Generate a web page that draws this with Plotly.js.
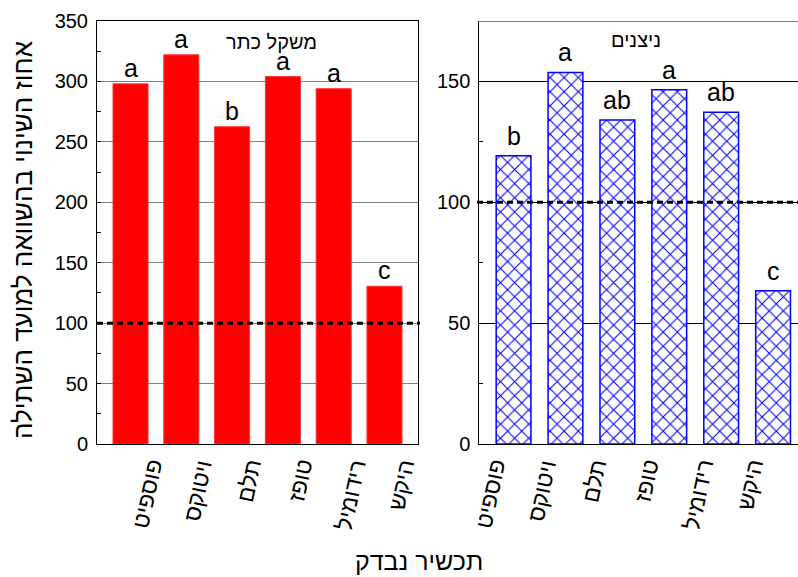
<!DOCTYPE html>
<html><head><meta charset="utf-8">
<script src="https://cdn.plot.ly/plotly-3.0.1.min.js"></script>
<style>body{margin:0;background:#fff}#chart{width:798px;height:577px}</style>
</head><body><div id="chart"></div>
<script>
const cultivars = ['פוספיט','ויטוקס','תלם','טופז','רידומיל','היקש'];
const crownWeight = [298, 322, 262.5, 304, 294, 130.5];
const crownLetters = ['a','a','b','a','a','c'];
const shoots = [119.3, 153.7, 134, 146.6, 137.2, 63.4];
const shootLetters = ['b','a','ab','a','ab','c'];
const leftYTicks = [0,50,100,150,200,250,300,350];
const leftMinor = [25,75,125,175,225,275,325];
const rightYTicks = [0,50,100,150];
const rightMinor = [25,75,125];
const panelTitles = ['משקל כתר','ניצנים'];
const yTitle = 'אחוז השינוי בהשוואה למועד השתילה';
const xTitle = 'תכשיר נבדק';
const reference = 100;

const FONT = 'Liberation Sans, Arial, sans-serif';
const idx = cultivars.map((_, i) => i);

const traces = [
  {type:'bar', x: idx, y: crownWeight, width: 0.69, xaxis:'x', yaxis:'y',
   marker:{color:'#ff0000', line:{color:'#ff3333', width:1}}, hoverinfo:'none'},
  {type:'bar', x: idx, y: shoots, width: 0.67, xaxis:'x2', yaxis:'y2',
   marker:{color:'#ffffff', line:{color:'#0000ff', width:1.5},
           pattern:{shape:'x', fgcolor:'#0000ff', bgcolor:'#ffffff', size:10, solidity:0.2, fillmode:'replace'}},
   hoverinfo:'none'}
];

const annotations = [];
idx.forEach(i => {
  annotations.push({xref:'x', yref:'y', x:i, y:crownWeight[i], text:crownLetters[i], showarrow:false,
    yanchor:'bottom', xanchor:'center', yshift:0, font:{family:FONT, size:25, color:'#000'}});
  annotations.push({xref:'x2', yref:'y2', x:i, y:shoots[i], text:shootLetters[i], showarrow:false,
    yanchor:'bottom', xanchor:'center', yshift:4, font:{family:FONT, size:25, color:'#000'}});
  annotations.push({xref:'x', yref:'y domain', x:i, y:0, text:cultivars[i], showarrow:false,
    textangle:-78, xanchor:'center', yanchor:'top', xshift:17, yshift:-11, font:{family:FONT, size:23, color:'#000'}});
  annotations.push({xref:'x2', yref:'y2 domain', x:i, y:0, text:cultivars[i], showarrow:false,
    textangle:-78, xanchor:'center', yanchor:'top', xshift:-23, yshift:-11, font:{family:FONT, size:23, color:'#000'}});
});
annotations.push({xref:'x domain', yref:'y', x:0.545, y:333, text:panelTitles[0], showarrow:false,
  font:{family:FONT, size:20, color:'#000'}});
annotations.push({xref:'x2', yref:'y2', x:2.36, y:167, text:panelTitles[1], showarrow:false,
  font:{family:FONT, size:20, color:'#000'}});
annotations.push({xref:'paper', yref:'paper', x:23/798, y:(577-240)/577, text:yTitle, showarrow:false,
  xanchor:'center', yanchor:'middle', textangle:-90, font:{family:FONT, size:26, color:'#000'}});
annotations.push({xref:'paper', yref:'paper', x:419/798, y:(577-561)/577, text:xTitle, showarrow:false,
  xanchor:'center', yanchor:'middle', font:{family:FONT, size:25, color:'#000'}});

const shapes = [
  {type:'line', xref:'paper', yref:'y', x0:97/798, x1:420/798, y0:reference, y1:reference,
   line:{color:'#000', width:3, dash:'6px,4px'}},
  {type:'line', xref:'paper', yref:'y2', x0:477/798, x1:1, y0:reference, y1:reference,
   line:{color:'#000', width:3, dash:'6px,4px'}},
  {type:'line', xref:'x2 domain', yref:'y2', x0:0, x1:1, y0:175, y1:175,
   line:{color:'#000', width:1}}
];

const yDom = [(577-444)/577, (577-21)/577];
const layout = {
  width:798, height:577, margin:{l:0, r:0, t:0, b:0},
  paper_bgcolor:'#fff', plot_bgcolor:'#fff', showlegend:false,
  font:{family:FONT, size:20, color:'#000'},
  xaxis:{domain:[97/798, 418/798], range:[-0.66, 5.66], showline:true, mirror:true, linecolor:'#000',
    linewidth:1, ticks:'', showticklabels:false, showgrid:false, zeroline:false, fixedrange:true},
  yaxis:{domain:yDom, range:[0,350], tickvals:leftYTicks, showline:true, mirror:true, linecolor:'#000',
    linewidth:1, gridcolor:'#808080', gridwidth:1, ticks:'inside', ticklen:4, tickcolor:'#000',
    minor:{tickvals:leftMinor, ticks:'inside', ticklen:4, tickcolor:'#000', showgrid:false},
    zeroline:false, tickfont:{family:FONT, size:20, color:'#000'}, ticklabelstandoff:4},
  xaxis2:{domain:[479.3/798, 1], range:[-0.66, 5.48], anchor:'y2', showline:true, mirror:false, linecolor:'#000',
    linewidth:1, ticks:'', showticklabels:false, showgrid:false, zeroline:false},
  yaxis2:{domain:yDom, range:[0,175], anchor:'x2', tickvals:rightYTicks, showline:true, mirror:false, linecolor:'#000',
    linewidth:1, gridcolor:'#000', gridwidth:1, ticks:'inside', ticklen:4, tickcolor:'#000',
    minor:{tickvals:rightMinor, ticks:'inside', ticklen:4, tickcolor:'#000', showgrid:false},
    zeroline:false, tickfont:{family:FONT, size:20, color:'#000'}, ticklabelstandoff:4},
  annotations: annotations,
  shapes: shapes
};

Plotly.newPlot('chart', traces, layout, {staticPlot:true, displayModeBar:false});
</script>
</body></html>
